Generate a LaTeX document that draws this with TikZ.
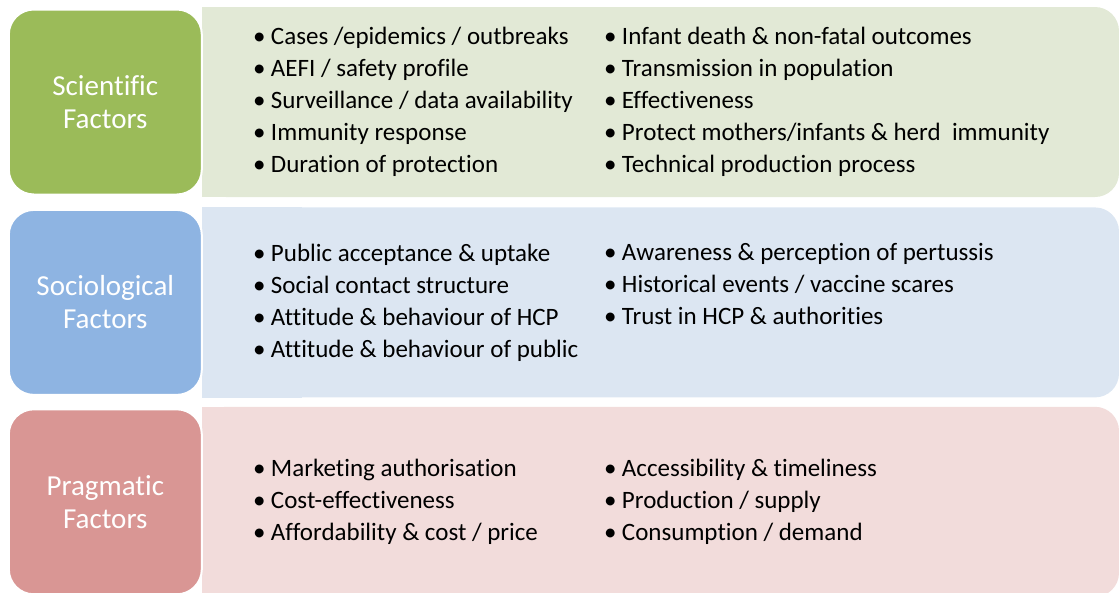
\documentclass[tikz,border=0pt]{standalone}
\usepackage{fontspec}
\setmainfont{Carlito}[Ligatures=NoCommon]
\usepackage{tikz}
\usetikzlibrary{positioning}

\definecolor{scibox}{HTML}{9BBB59}
\definecolor{scipale}{HTML}{E2E9D6}
\definecolor{socbox}{HTML}{8EB4E2}
\definecolor{socpale}{HTML}{DCE6F2}
\definecolor{pragbox}{HTML}{D99694}
\definecolor{pragpale}{HTML}{F2DCDB}

\newcommand{\bitem}{\makebox[18pt][l]{•}}

\begin{document}
\begin{tikzpicture}[x=1pt,y=-1pt,node distance=10pt]
	\tikzstyle{panel}
	  =[rectangle, rounded corners=24pt, minimum width=917pt,
	  minimum height=190pt, inner sep=0pt]
	\tikzstyle{factor}
	  =[rectangle, rounded corners=25pt, draw=white, line width=2pt,
	  minimum width=193pt, minimum height=185pt, inner sep=0pt,
	  text=white, align=center, font=\fontsize{29}{33}\selectfont]
	\tikzstyle{items}
	  =[inner sep=0pt, align=left, font=\fontsize{25}{32}\selectfont]

	\useasboundingbox (0,0) rectangle (1119,592);

	% right hand panels
	\node[panel,fill=scipale] (sciP)
	  at (660.5,102) {};
	\node[panel,fill=socpale] (socP)
	  [below=of sciP] {};
	\node[panel,fill=pragpale] (pragP)
	  [below=9pt of socP] {};
	\fill[scipale] (sciP.north west) rectangle ([xshift=100pt]sciP.south west);
	\fill[socpale] (socP.north west) rectangle ([xshift=100pt]socP.south west);
	\fill[pragpale] (pragP.north west) rectangle ([xshift=100pt]pragP.south west);

	% factor boxes
	\node[factor,fill=scibox] (sci)
	  [left=-1pt of sciP] {Scientific\\Factors};
	\node[factor,fill=socbox] (soc)
	  [left=-1pt of socP] {Sociological\\Factors};
	\node[factor,fill=pragbox] (prag)
	  [left=-1pt of pragP] {Pragmatic\\Factors};

	% lists
	\node[items] (sciL)
	  [right=51pt of sciP.west]
	  {\bitem Cases /epidemics / outbreaks\\
	   \bitem AEFI / safety profile\\
	   \bitem Surveillance / data availability\\
	   \bitem Immunity response\\
	   \bitem Duration of protection};
	\node[items,anchor=north west] (sciR)
	  at ([xshift=351pt]sciL.north west)
	  {\bitem Infant death \& non-fatal outcomes\\
	   \bitem Transmission in population\\
	   \bitem Effectiveness\\
	   \bitem Protect mothers/infants \& herd\ \ immunity\\
	   \bitem Technical production process};

	\node[items] (socL)
	  [right=51pt of socP.west]
	  {\bitem Public acceptance \& uptake\\
	   \bitem Social contact structure\\
	   \bitem Attitude \& behaviour of HCP\\
	   \bitem Attitude \& behaviour of public};
	\node[items,anchor=north west] (socR)
	  at ([xshift=351pt]socL.north west)
	  {\bitem Awareness \& perception of pertussis\\
	   \bitem Historical events / vaccine scares\\
	   \bitem Trust in HCP \& authorities};

	\node[items] (pragL)
	  [right=51pt of pragP.west]
	  {\bitem Marketing authorisation\\
	   \bitem Cost-effectiveness\\
	   \bitem Affordability \& cost / price};
	\node[items,anchor=north west] (pragR)
	  at ([xshift=351pt]pragL.north west)
	  {\bitem Accessibility \& timeliness\\
	   \bitem Production / supply\\
	   \bitem Consumption / demand};
\end{tikzpicture}
\end{document}
